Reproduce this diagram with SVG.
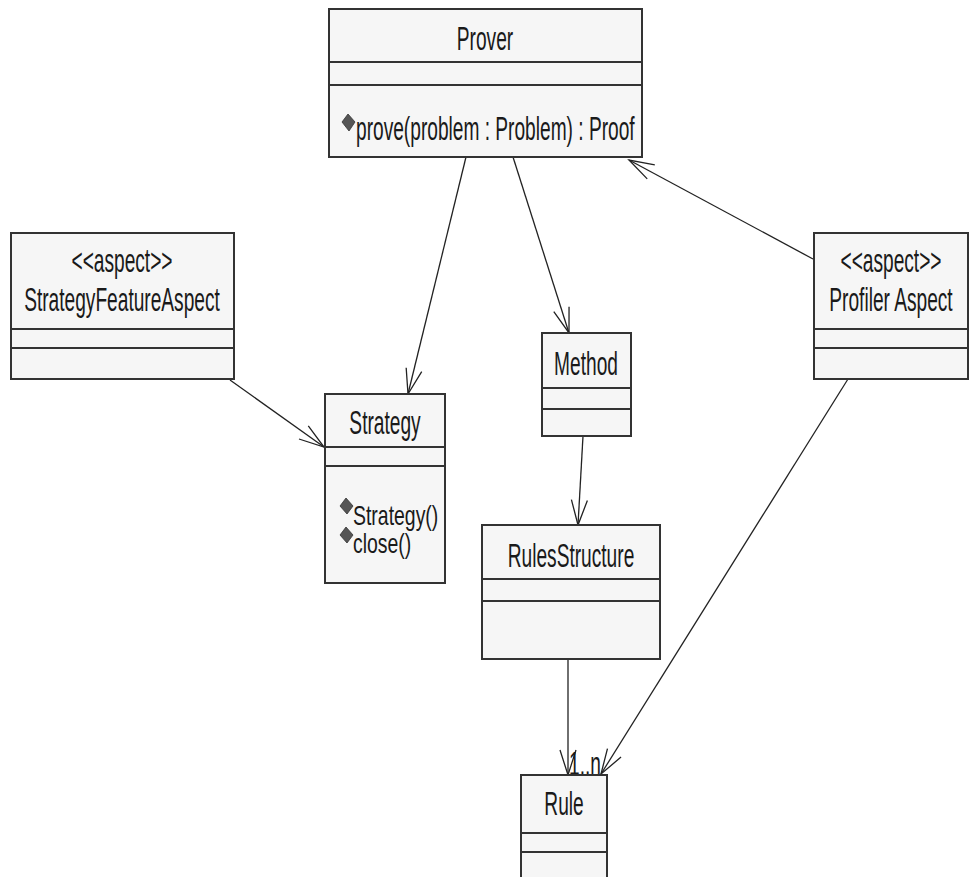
<svg xmlns="http://www.w3.org/2000/svg" width="971" height="877" viewBox="0 0 971 877">
<defs>
<style>
.box{fill:#f6f6f6;stroke:#333;stroke-width:2}
.sep{stroke:#333;stroke-width:2}
.t{font-family:"Liberation Sans",Arial,sans-serif;font-size:33px;fill:#1a1a1a}
.s{font-size:27px}
.c{text-anchor:middle}
.edge{stroke:#222;stroke-width:1.3;fill:none}
.icon{fill:#555;stroke:#333;stroke-width:0.8}
</style>
<marker id="open" markerWidth="28" markerHeight="20" refX="26" refY="10" orient="auto" markerUnits="userSpaceOnUse">
<path d="M1,2 L26,10 L1,18" fill="none" stroke="#222" stroke-width="1.3"/>
</marker>
</defs>
<rect width="971" height="877" fill="#fff"/>

<g id="connectors">
<line class="edge" x1="466" y1="157" x2="408" y2="394" marker-end="url(#open)"/>
<line class="edge" x1="513" y1="157" x2="569" y2="333" marker-end="url(#open)"/>
<line class="edge" x1="813" y1="259" x2="629" y2="160" marker-end="url(#open)"/>
<line class="edge" x1="230" y1="380" x2="324" y2="447" marker-end="url(#open)"/>
<line class="edge" x1="583" y1="436" x2="578" y2="525" marker-end="url(#open)"/>
<line class="edge" x1="568" y1="659" x2="568" y2="775" marker-end="url(#open)"/>
<line class="edge" x1="848" y1="379" x2="601" y2="774" marker-end="url(#open)"/>
<text class="t" transform="translate(569,775) scale(0.58,1)" x="0" y="0">1..n</text>
</g>

<g id="Prover">
<rect class="box" x="329" y="9" width="313" height="148"/>
<line class="sep" x1="329" y1="62" x2="642" y2="62"/>
<line class="sep" x1="329" y1="85" x2="642" y2="85"/>
<text class="t c" transform="translate(485,50) scale(0.58,1)" x="0" y="0">Prover</text>
<polygon class="icon" points="348,114 355,122 349,131 342,122"/>
<text class="t" transform="translate(356,140) scale(0.58,1)" x="0" y="0">prove(problem : Problem) : Proof</text>
</g>

<g id="StrategyFeatureAspect">
<rect class="box" x="11" y="233" width="223" height="146"/>
<line class="sep" x1="11" y1="329" x2="234" y2="329"/>
<line class="sep" x1="11" y1="348" x2="234" y2="348"/>
<text class="t c" transform="translate(122,272) scale(0.58,1)" x="0" y="0">&lt;&lt;aspect&gt;&gt;</text>
<text class="t c" transform="translate(122,311) scale(0.58,1)" x="0" y="0">StrategyFeatureAspect</text>
</g>

<g id="ProfilerAspect">
<rect class="box" x="814" y="233" width="154" height="146"/>
<line class="sep" x1="814" y1="329" x2="968" y2="329"/>
<line class="sep" x1="814" y1="348" x2="968" y2="348"/>
<text class="t c" transform="translate(891,272) scale(0.58,1)" x="0" y="0">&lt;&lt;aspect&gt;&gt;</text>
<text class="t c" transform="translate(891,311) scale(0.58,1)" x="0" y="0">Profiler Aspect</text>
</g>

<g id="Strategy">
<rect class="box" x="325" y="394" width="120" height="189"/>
<line class="sep" x1="325" y1="447" x2="445" y2="447"/>
<line class="sep" x1="325" y1="466" x2="445" y2="466"/>
<text class="t c" transform="translate(385,434) scale(0.58,1)" x="0" y="0">Strategy</text>
<polygon class="icon" points="346,498 353,506 347,514 340,506"/>
<text class="t s" transform="translate(353,525) scale(0.72,1)" x="0" y="0">Strategy()</text>
<polygon class="icon" points="346,527 353,535 347,543 340,535"/>
<text class="t s" transform="translate(353,553) scale(0.72,1)" x="0" y="0">close()</text>
</g>

<g id="Method">
<rect class="box" x="542" y="333" width="89" height="103"/>
<line class="sep" x1="542" y1="388" x2="631" y2="388"/>
<line class="sep" x1="542" y1="409" x2="631" y2="409"/>
<text class="t c" transform="translate(586,375) scale(0.58,1)" x="0" y="0">Method</text>
</g>

<g id="RulesStructure">
<rect class="box" x="482" y="525" width="178" height="134"/>
<line class="sep" x1="482" y1="579" x2="660" y2="579"/>
<line class="sep" x1="482" y1="601" x2="660" y2="601"/>
<text class="t c" transform="translate(571,567) scale(0.58,1)" x="0" y="0">RulesStructure</text>
</g>

<g id="Rule">
<rect class="box" x="521" y="775" width="86" height="110"/>
<line class="sep" x1="521" y1="833" x2="607" y2="833"/>
<line class="sep" x1="521" y1="852" x2="607" y2="852"/>
<text class="t c" transform="translate(564,815) scale(0.58,1)" x="0" y="0">Rule</text>
</g>
</svg>
